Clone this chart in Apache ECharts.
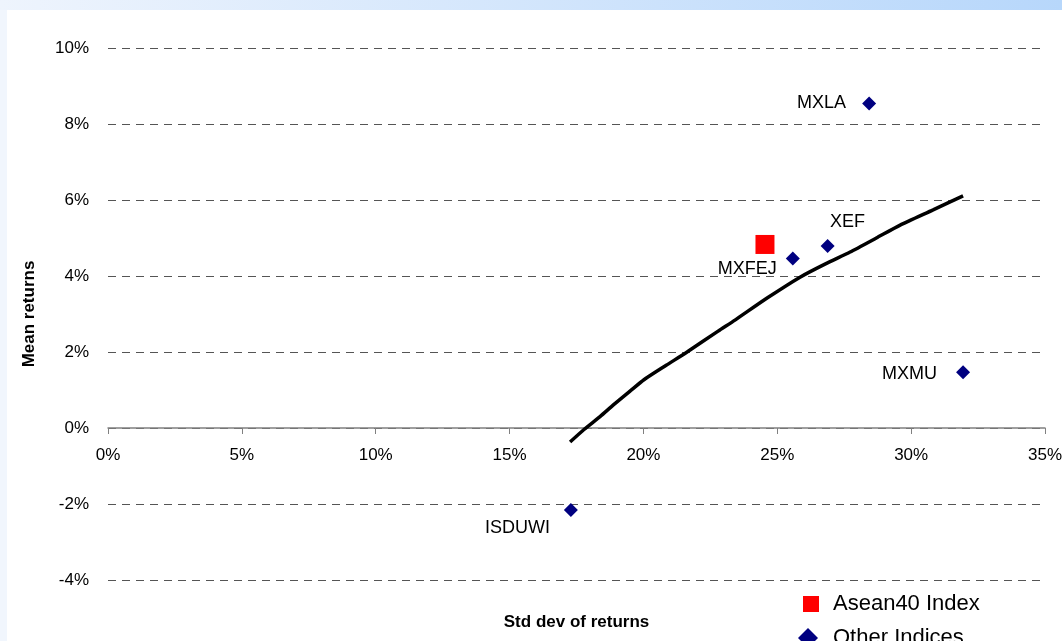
<!DOCTYPE html>
<html>
<head>
<meta charset="utf-8">
<script src="https://cdn.jsdelivr.net/npm/echarts@6/dist/echarts.min.js"></script>
<style>
  html, body { margin: 0; padding: 0; }
  #chart { width: 1062px; height: 641px; }
</style>
</head>
<body>
<div id="chart"></div>
<script>
// risk / return data, all in percent
const frontierStd = [17.26, 17.78, 18.38, 18.90, 19.50, 20.02, 20.85, 21.63, 22.79, 23.42, 24.62, 25.85, 26.80, 27.72, 28.70, 29.59, 30.82, 31.94];
const frontierMean = [-0.37, -0.04, 0.30, 0.62, 0.97, 1.27, 1.65, 2.00, 2.55, 2.84, 3.42, 3.97, 4.32, 4.63, 5.00, 5.34, 5.74, 6.11];

const aseanName = 'Asean40 Index';
const aseanStd = [24.54];
const aseanMean = [4.83];

const otherName = 'Other Indices';
const otherNames = ['MXFEJ', 'XEF', 'MXLA', 'MXMU', 'ISDUWI'];
const otherStd = [25.58, 26.88, 28.43, 31.94, 17.29];
const otherMean = [4.46, 4.79, 8.54, 1.47, -2.16];

const xTicks = [0, 5, 10, 15, 20, 25, 30, 35];
const yTicks = [-4, -2, 0, 2, 4, 6, 8, 10];

// where each index label sits next to its marker
const labelPlacement = {
  MXFEJ:  { position: 'left', distance: 9, offset: [0, 11] },
  XEF:    { position: 'top', distance: 8, offset: [20, 0] },
  MXLA:   { position: 'left', distance: 16, offset: [0, 0] },
  MXMU:   { position: 'left', distance: 19, offset: [0, 2] },
  ISDUWI: { position: 'left', distance: 14, offset: [0, 18] }
};

const font = '"Liberation Sans", Arial, sans-serif';
const chart = echarts.init(document.getElementById('chart'));

const legendText = { fontFamily: font, fontSize: 22, color: '#000' };

const option = {
  backgroundColor: '#f1f6fd',
  textStyle: { fontFamily: font },
  animation: false,
  graphic: [
    {
      type: 'rect', z: -10, silent: true,
      shape: { x: 0, y: 0, width: 1062, height: 10 },
      style: {
        fill: new echarts.graphic.LinearGradient(0, 0, 1, 0, [
          { offset: 0, color: '#eef4fd' },
          { offset: 1, color: '#b7d7fb' }
        ])
      }
    },
    {
      type: 'rect', z: -10, silent: true,
      shape: { x: 7, y: 10, width: 1055, height: 631 },
      style: { fill: '#ffffff' }
    }
  ],
  grid: { left: 108, right: 17, top: 48, bottom: 61, containLabel: false, outerBoundsMode: 'none' },
  xAxis: {
    type: 'value',
    position: 'bottom',
    // lift the axis up to the 0% line (grid bottom is at -4%)
    offset: -152,
    min: xTicks[0],
    max: xTicks[xTicks.length - 1],
    interval: 5,
    name: 'Std dev of returns',
    nameLocation: 'middle',
    nameGap: 186,
    nameTextStyle: { fontFamily: font, fontSize: 17, fontWeight: 'bold', color: '#000' },
    axisLine: { onZero: false, lineStyle: { color: '#808080', width: 1.5 } },
    axisTick: { show: true, inside: false, length: 6, lineStyle: { color: '#808080', width: 1 } },
    axisLabel: { fontSize: 17, color: '#000', margin: 19, formatter: '{value}%' },
    splitLine: { show: false }
  },
  yAxis: {
    type: 'value',
    min: yTicks[0],
    max: yTicks[yTicks.length - 1],
    interval: 2,
    name: 'Mean returns',
    nameLocation: 'middle',
    nameGap: 70,
    nameTextStyle: { fontFamily: font, fontSize: 17, fontWeight: 'bold', color: '#000' },
    axisLine: { show: false },
    axisTick: { show: false },
    axisLabel: { fontSize: 17, color: '#000', margin: 19, formatter: '{value}%' },
    splitLine: { show: true, lineStyle: { color: '#555', type: [8, 6], width: 1 } }
  },
  legend: [
    {
      left: 798,
      top: 588,
      itemWidth: 16,
      itemHeight: 16,
      textStyle: Object.assign({ padding: [7, 0, 0, 9] }, legendText),
      data: [{ name: aseanName, icon: 'rect' }]
    },
    {
      left: 793,
      top: 622,
      itemWidth: 20,
      itemHeight: 20,
      textStyle: Object.assign({ padding: [10, 0, 0, 10] }, legendText),
      data: [{ name: otherName, icon: 'diamond' }]
    }
  ],
  series: [
    {
      name: 'Frontier',
      type: 'line',
      data: frontierStd.map((x, i) => [x, frontierMean[i]]),
      showSymbol: false,
      smooth: 0.2,
      lineStyle: { color: '#000', width: 3.5 },
      z: 3
    },
    {
      name: aseanName,
      type: 'scatter',
      symbol: 'rect',
      symbolSize: 19,
      itemStyle: { color: '#ff0000', opacity: 1 },
      data: aseanStd.map((x, i) => [x, aseanMean[i]]),
      z: 4
    },
    {
      name: otherName,
      type: 'scatter',
      symbol: 'diamond',
      symbolSize: 14,
      itemStyle: { color: '#000080', opacity: 1 },
      data: otherNames.map((n, i) => ({
        name: n,
        value: [otherStd[i], otherMean[i]],
        label: Object.assign({
          show: true,
          formatter: '{b}',
          fontFamily: font,
          fontSize: 18,
          color: '#000'
        }, labelPlacement[n])
      })),
      z: 4
    }
  ]
};

chart.setOption(option);
</script>
</body>
</html>
